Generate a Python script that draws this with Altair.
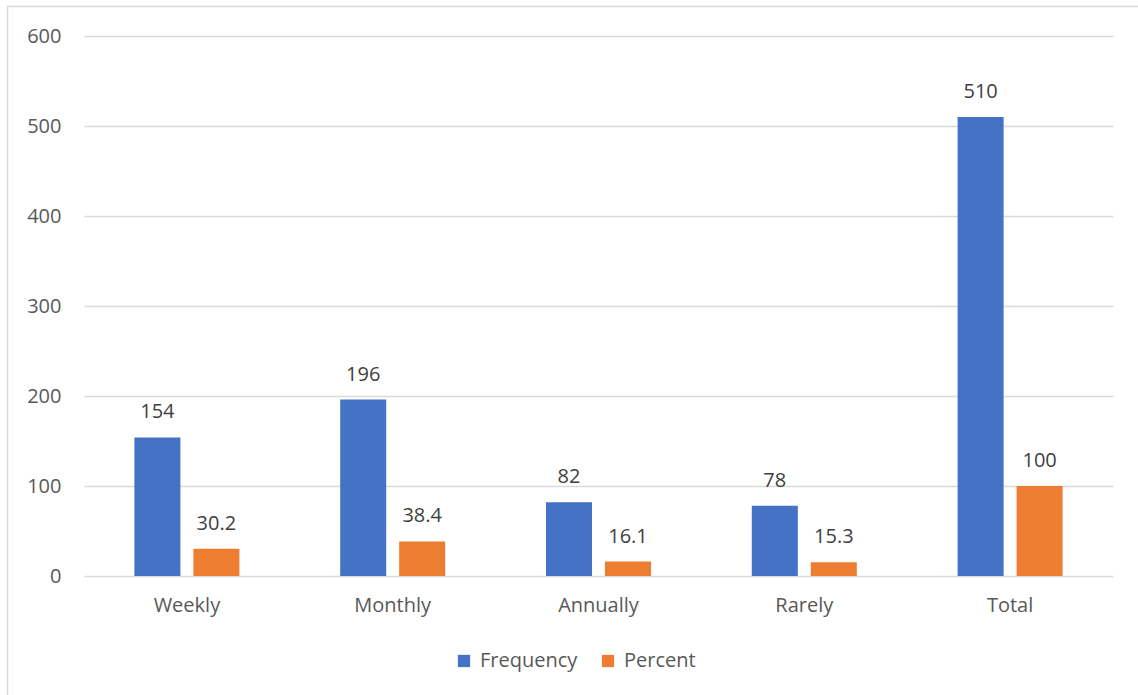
import altair as alt
import pandas as pd

categories = ["Weekly", "Monthly", "Annually", "Rarely", "Total"]
frequency = [154, 196, 82, 78, 510]
percent = [30.2, 38.4, 16.1, 15.3, 100]
series = ["Frequency", "Percent"]
colors = ["#4472C4", "#ED7D31"]
y_ticks = [0, 100, 200, 300, 400, 500, 600]

rows = []
for cat, f, p in zip(categories, frequency, percent):
    rows.append({"category": cat, "series": "Frequency", "value": f, "label": f"{f:g}"})
    rows.append({"category": cat, "series": "Percent", "value": p, "label": f"{p:g}"})
df = pd.DataFrame(rows)

W, H = 1029, 540
FONT = "Open Sans"
FS = 20

x_enc = alt.X(
    "category:N",
    sort=categories,
    scale=alt.Scale(paddingInner=0, paddingOuter=0),
    axis=alt.Axis(
        title=None, labelAngle=0, ticks=False, domain=False, grid=False,
        labelFontSize=FS, labelColor="#595959", labelFont=FONT, labelPadding=19,
    ),
)
xo_enc = alt.XOffset(
    "series:N", sort=series,
    scale=alt.Scale(paddingInner=0.22, paddingOuter=0.854),
)
y_enc = alt.Y(
    "value:Q",
    scale=alt.Scale(domain=[0, 600], nice=False),
    axis=alt.Axis(
        values=y_ticks, title=None, ticks=False, domain=False,
        gridColor="#D9D9D9", gridWidth=1.3,
        labelFontSize=FS, labelColor="#595959", labelFont=FONT, labelPadding=23,
    ),
)
color_enc = alt.Color(
    "series:N", sort=series,
    scale=alt.Scale(domain=series, range=colors),
    legend=alt.Legend(
        title=None, orient="none", direction="horizontal",
        legendX=370, legendY=75 + H,
        symbolType="square", symbolSize=150, symbolStrokeWidth=0,
        labelFontSize=FS, labelColor="#595959", labelFont=FONT,
        columnPadding=20, labelOffset=6, padding=0,
    ),
)

frame = alt.Chart(pd.DataFrame({"k": [0]})).mark_rect(
    fill=None, stroke="#D9D9D9", strokeWidth=1.5
).encode(
    x=alt.value(-76.5), x2=alt.value(W + 60),
    y=alt.value(-29.5), y2=alt.value(H + 200),
)

bars = alt.Chart(df).mark_bar().encode(
    x=x_enc, xOffset=xo_enc, y=y_enc, color=color_enc,
)

labels = alt.Chart(df).mark_text(
    baseline="middle", dy=-25, fontSize=FS, font=FONT, color="#404040",
).encode(
    x=x_enc, xOffset=xo_enc, y=y_enc, text="label:N",
)

chart = alt.layer(frame, bars, labels).properties(
    width=W, height=H,
    background="white",
    autosize=alt.AutoSizeParams(type="none"),
    padding={"left": 84, "top": 36, "right": 25, "bottom": 119},
).configure_view(strokeWidth=0, stroke="transparent")

chart.save("out.html", embed_options={"renderer": "svg", "actions": False})
